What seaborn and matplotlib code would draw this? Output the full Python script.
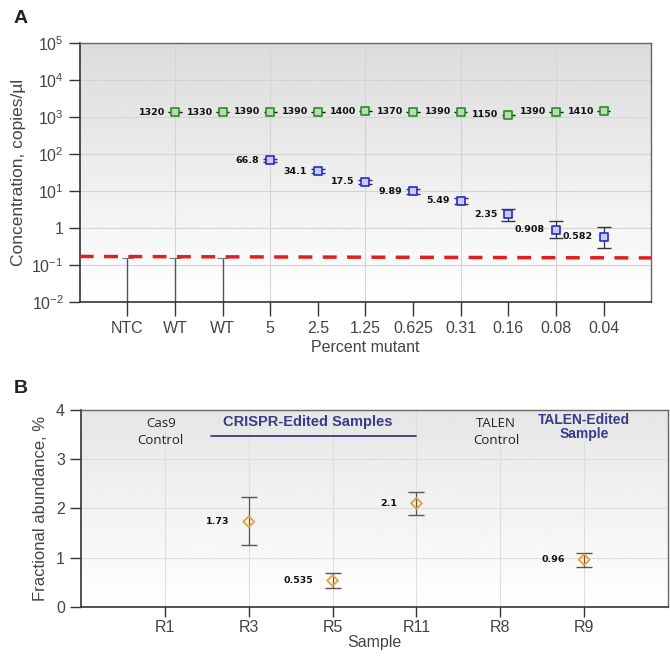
import numpy as np
import pandas as pd
import matplotlib
matplotlib.use("Agg")
import matplotlib.pyplot as plt
import seaborn as sns

# Panel A data
cats_a = ["NTC", "WT", "WT", "5", "2.5", "1.25", "0.625", "0.31", "0.16", "0.08", "0.04"]
wt_idx = [1, 2, 3, 4, 5, 6, 7, 8, 9, 10]
wt_vals = [1320, 1330, 1390, 1390, 1400, 1370, 1390, 1150, 1390, 1410]
mut_idx = [3, 4, 5, 6, 7, 8, 9, 10]
mut_vals = [66.8, 34.1, 17.5, 9.89, 5.49, 2.35, 0.908, 0.582]
mut_lo = [60.0, 30.5, 15.2, 8.4, 4.5, 1.5, 0.52, 0.28]
mut_hi = [74.0, 38.0, 20.0, 11.5, 6.6, 3.3, 1.5, 1.05]
neg_idx = [0, 1, 2]
neg_top = [0.155, 0.155, 0.15]
lod_left, lod_right = 0.17, 0.155

# Panel B data
cats_b = ["R1", "R3", "R5", "R11", "R8", "R9"]
ab_idx = [1, 2, 3, 5]
ab_vals = [1.73, 0.535, 2.1, 0.96]
ab_lo = [1.25, 0.38, 1.87, 0.82]
ab_hi = [2.22, 0.68, 2.33, 1.10]

sns.set_theme(style="white")
plt.rcParams["font.family"] = ["Liberation Sans", "DejaVu Sans"]
plt.rcParams["mathtext.fontset"] = "custom"
plt.rcParams["mathtext.rm"] = "Liberation Sans"
plt.rcParams["mathtext.it"] = "Liberation Sans"

fig = plt.figure(figsize=(6.7, 6.58), dpi=100)
ax1 = fig.add_axes([0.119, 0.541, 0.853, 0.394])
ax2 = fig.add_axes([0.121, 0.0775, 0.876, 0.30])

def gradient(ax, top):
    g = np.linspace(top, 1.0, 256)[:, None]
    ax.imshow(g, extent=(0, 1, 0, 1), transform=ax.transAxes, aspect="auto",
              cmap="gray", vmin=0, vmax=1, zorder=0, origin="upper")

txt = "#444444"
navy = "#3a3a86"

# ---- Panel A ----
ax1.set_yscale("log")
ax1.set_xlim(-1, 11)
ax1.set_ylim(1e-2, 1e5)
gradient(ax1, 0.86)
for e in range(-1, 5):
    ax1.axhline(10.0 ** e, color="#d4d4d4", lw=0.8, zorder=1)
for i in range(1, 11, 2):
    ax1.axvline(i, color="#d4d4d4", lw=0.8, zorder=1)

ax1.vlines(neg_idx, 1e-2, neg_top, color="#555555", lw=1.0, zorder=2)
ax1.hlines(neg_top, np.array(neg_idx) - 0.12, np.array(neg_idx) + 0.12, color="#777777", lw=0.8, zorder=2)
ax1.plot([-1, 11], [lod_left, lod_right], color="#e02020", lw=2.5, ls=(0, (4, 3)), zorder=3)

mut_vals_a = np.array(mut_vals)
ax1.errorbar(mut_idx, mut_vals, yerr=[mut_vals_a - np.array(mut_lo), np.array(mut_hi) - mut_vals_a],
             fmt="none", ecolor="#333333", elinewidth=0.9, capsize=4.7, zorder=3)
ax1.hlines(wt_vals, np.array(wt_idx) - 0.14, np.array(wt_idx) + 0.14, color="#111111", lw=1.0, zorder=3)

df_wt = pd.DataFrame({"x": wt_idx, "y": wt_vals})
df_mut = pd.DataFrame({"x": mut_idx, "y": mut_vals})
sns.scatterplot(data=df_wt, x="x", y="y", ax=ax1, marker="s", s=26, facecolor="#b9dcb0",
                edgecolor="#2a8a2a", linewidth=1.2, zorder=4)
sns.scatterplot(data=df_mut, x="x", y="y", ax=ax1, marker="s", s=26, facecolor="#c8ccf0",
                edgecolor="#2828d0", linewidth=1.2, zorder=4)

for x, y in zip(wt_idx, wt_vals):
    ax1.annotate(f"{y}", (x, y), xytext=(-7, 0), textcoords="offset points", ha="right",
                 va="center", fontsize=6.8, fontweight="bold", color="#111111",
                 family=["DejaVu Sans"], zorder=5)
for x, y in zip(mut_idx, mut_vals):
    ax1.annotate(f"{y:g}", (x, y), xytext=(-8, 0), textcoords="offset points", ha="right",
                 va="center", fontsize=6.8, fontweight="bold", color="#111111",
                 family=["DejaVu Sans"], zorder=5)

ax1.set_xticks(range(len(cats_a)))
ax1.set_xticklabels(cats_a)
ytk = [1e-2, 1e-1, 1, 10, 100, 1e3, 1e4, 1e5]
ax1.set_yticks(ytk)
ax1.set_yticklabels(["$10^{-2}$", "$10^{-1}$", "1", "$10^{1}$", "$10^{2}$", "$10^{3}$", "$10^{4}$", "$10^{5}$"])
ax1.minorticks_off()
ax1.set_xlabel("Percent mutant", fontsize=11.5, color=txt, labelpad=3)
ax1.set_ylabel("Concentration, copies/µl", fontsize=12.5, color=txt, labelpad=4)

# ---- Panel B ----
ax2.set_xlim(-1, 6)
ax2.set_ylim(0, 4)
gradient(ax2, 0.90)
for v in [1, 2, 3]:
    ax2.axhline(v, color="#dedede", lw=0.8, zorder=1)
for i in range(len(cats_b)):
    ax2.axvline(i, color="#dedede", lw=0.8, zorder=1)

ab_vals_a = np.array(ab_vals)
ax2.errorbar(ab_idx, ab_vals, yerr=[ab_vals_a - np.array(ab_lo), np.array(ab_hi) - ab_vals_a],
             fmt="none", ecolor="#555555", elinewidth=0.9, capsize=5.5, zorder=3)
df_ab = pd.DataFrame({"x": ab_idx, "y": ab_vals})
sns.scatterplot(data=df_ab, x="x", y="y", ax=ax2, marker="D", s=30, facecolor="none",
                edgecolor="#e8a030", linewidth=1.3, zorder=4)
for x, y in zip(ab_idx, ab_vals):
    ax2.annotate(f"{y:g}", (x, y), xytext=(-14, 0), textcoords="offset points", ha="right",
                 va="center", fontsize=6.8, fontweight="bold", color="#111111",
                 family=["DejaVu Sans"], zorder=5)

ax2.text(-0.05, 3.55, "Cas9\nControl", ha="center", va="center", fontsize=9.5, color="#222222",
         linespacing=1.35, family=["Open Sans", "DejaVu Sans"])
ax2.text(1.7, 3.75, "CRISPR-Edited Samples", ha="center", va="center", fontsize=10.5,
         fontweight="bold", color=navy)
ax2.plot([0.55, 3.0], [3.47, 3.47], color=navy, lw=1.3, zorder=5)
ax2.text(3.95, 3.55, "TALEN\nControl", ha="center", va="center", fontsize=9.5, color="#222222",
         linespacing=1.35, family=["Open Sans", "DejaVu Sans"])
ax2.text(5.0, 3.65, "TALEN-Edited\nSample", ha="center", va="center", fontsize=10,
         fontweight="bold", color=navy, linespacing=0.95)

ax2.set_xticks(range(len(cats_b)))
ax2.set_xticklabels(cats_b)
ax2.set_yticks([0, 1, 2, 3, 4])
ax2.set_xlabel("Sample", fontsize=11.5, color=txt, labelpad=0)
ax2.set_ylabel("Fractional abundance, %", fontsize=12, color=txt, labelpad=6)

for ax in (ax1, ax2):
    ax.tick_params(axis="both", labelsize=11.5, labelcolor=txt, length=8, width=1.0,
                   color="#333333", direction="out", left=True, bottom=True)
    for s in ["left", "bottom"]:
        ax.spines[s].set_color("#333333")
        ax.spines[s].set_linewidth(1.2)
    for s in ["top", "right"]:
        ax.spines[s].set_color("#666666")
        ax.spines[s].set_linewidth(1.0)
    ax.grid(False)
ax1.tick_params(axis="x", length=10)
ax2.tick_params(axis="x", length=7, pad=2)

fig.text(0.02, 0.972, "A", fontsize=14, fontweight="bold", color="#222222", va="center")
fig.text(0.02, 0.41, "B", fontsize=14, fontweight="bold", color="#222222", va="center")

fig.savefig("out.png", dpi=100)
